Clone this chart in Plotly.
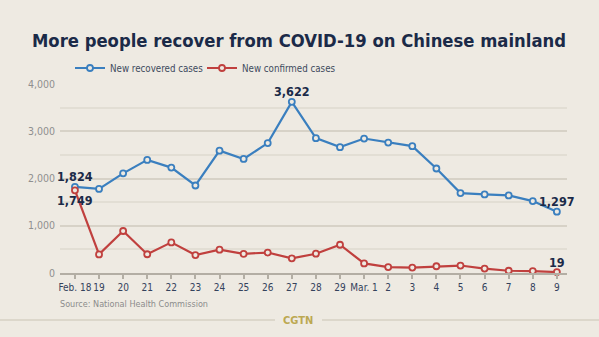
import plotly.graph_objects as go

# Daily figures, Feb. 18 - Mar. 9
dates = ["Feb. 18", "19", "20", "21", "22", "23", "24", "25", "26", "27", "28",
         "29", "Mar. 1", "2", "3", "4", "5", "6", "7", "8", "9"]
recovered = [1824, 1779, 2109, 2394, 2231, 1852, 2589, 2414, 2750, 3622, 2854,
             2664, 2846, 2761, 2685, 2212, 1691, 1662, 1641, 1522, 1297]
confirmed = [1749, 394, 889, 397, 648, 380, 493, 406, 433, 310, 408,
             598, 202, 125, 114, 143, 158, 94, 48, 41, 19]
y_ticks = [0, 1000, 2000, 3000, 4000]
y_tick_text = ["0", "1,000", "2,000", "3,000", "4,000"]

BLUE = "#3a7fbf"
RED = "#c0403e"
NAVY = "#1b2a48"
BG = "#eeeae2"
NARROW = "DejaVu Sans Condensed, Liberation Sans Narrow, sans-serif"

xs = list(range(len(dates)))

fig = go.Figure()
fig.add_trace(go.Scatter(
    x=xs, y=recovered, name="New recovered cases", mode="lines+markers",
    line=dict(color=BLUE, width=2.2),
    marker=dict(symbol="circle", size=6, color=BG, line=dict(color=BLUE, width=1.8)),
    cliponaxis=False, legend="legend",
))
fig.add_trace(go.Scatter(
    x=xs, y=confirmed, name="New confirmed cases", mode="lines+markers",
    line=dict(color=RED, width=2.2),
    marker=dict(symbol="circle", size=6, color=BG, line=dict(color=RED, width=1.8)),
    cliponaxis=False, legend="legend2",
))

# Value callouts on selected points
labels = [
    (0, recovered[0], 10),
    (0, confirmed[0], -10),
    (9, recovered[9], 10),
    (20, recovered[20], 10),
    (20, confirmed[20], 10),
]
for xi, val, dy in labels:
    fig.add_annotation(
        x=xi, y=val, text=f"<b>{val:,}</b>", showarrow=False,
        xanchor="center", yanchor="middle", yshift=dy,
        font=dict(family=NARROW, size=12.5, color=NAVY),
    )

# Title, source and brand line
fig.add_annotation(
    text="<b>More people recover from COVID-19 on Chinese mainland</b>",
    xref="paper", yref="paper", x=(299 - 60) / 507, y=1, yshift=44,
    xanchor="center", yanchor="middle", showarrow=False,
    font=dict(family=NARROW, size=18.3, color=NAVY),
)
fig.add_annotation(
    text="Source: National Health Commission",
    xref="paper", yref="paper", x=0, y=0, xshift=-2, yshift=-31,
    xanchor="left", yanchor="middle", showarrow=False,
    font=dict(family=NARROW, size=9, color="#8c8c8c"),
)
fig.add_annotation(
    text="<b>CGTN</b>", xref="paper", yref="paper", x=(298 - 60) / 507, y=0,
    yshift=-47, xanchor="center", yanchor="middle", showarrow=False,
    font=dict(family=NARROW, size=11, color="#bca851"),
)
for x0, x1 in [(-60 / 507, (275 - 60) / 507), ((322 - 60) / 507, (599 - 60) / 507)]:
    fig.add_shape(type="line", xref="paper", yref="paper", x0=x0, x1=x1,
                  y0=-47 / 189, y1=-47 / 189, line=dict(color="#d6d0c3", width=1.5))

legend_style = dict(orientation="h", y=1 + 16 / 189, xanchor="left", yanchor="middle",
                    bgcolor="rgba(0,0,0,0)", itemwidth=30,
                    font=dict(family=NARROW, size=9.7, color="#3f4a5e"))

fig.update_layout(
    width=599, height=337,
    margin=dict(l=60, r=32, t=84, b=64),
    paper_bgcolor=BG, plot_bgcolor=BG,
    showlegend=True,
    legend=dict(x=(70 - 60) / 507, **legend_style),
    legend2=dict(x=(202 - 60) / 507, **legend_style),
    xaxis=dict(
        range=[-0.62, 20.42], tickmode="array", tickvals=xs, ticktext=dates,
        tickangle=0,
        showgrid=False, zeroline=False, showline=True, linecolor="#b3aea4",
        linewidth=2, ticks="outside", ticklen=4, tickwidth=1.5, tickcolor="#b3aea4",
        tickfont=dict(family=NARROW, size=10, color="#34425c"),
    ),
    yaxis=dict(
        range=[0, 4000], tickmode="array", tickvals=y_ticks, ticktext=y_tick_text,
        showgrid=True, gridcolor="#d7d2c7", gridwidth=2, zeroline=False,
        showline=False, ticks="", ticklabelstandoff=4,
        tickfont=dict(family=NARROW, size=10.5, color="#8f8f8f"),
        minor=dict(tickmode="linear", tick0=500, dtick=1000, showgrid=True,
                   gridcolor="#e2ded4", gridwidth=1.5),
    ),
)

fig.write_html("out.html")
